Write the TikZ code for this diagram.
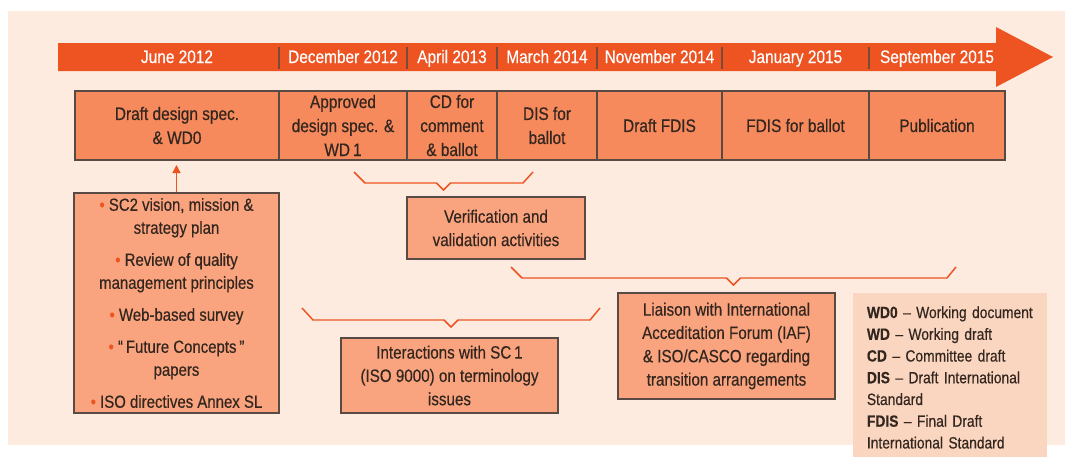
\documentclass[tikz,border=0pt]{standalone}
\usepackage{fontspec}
\setmainfont{Liberation Sans}[FakeStretch=0.85, FakeBold=0.4]
\usetikzlibrary{arrows.meta,calc,positioning}

\definecolor{bgpeach}{HTML}{FDEBE0}
\definecolor{arrowred}{HTML}{EE5322}
\definecolor{stagefill}{HTML}{F68A5C}
\definecolor{notefill}{HTML}{F9A47E}
\definecolor{legendfill}{HTML}{FAD5BF}
\definecolor{boxline}{HTML}{5A4A44}
\definecolor{textdark}{HTML}{33261F}

\newcommand{\bul}{{\color{arrowred}\textbullet}\ }

\begin{document}
\begin{tikzpicture}[x=0.75pt, y=-0.75pt,
    stage/.style={draw=boxline, line width=1.1pt, fill=stagefill, text=textdark, align=center,
      inner sep=0pt, outer sep=0pt, minimum height=51.75pt, font=\fontsize{13.6}{18}\selectfont},
    date/.style={text=white, anchor=base, font=\fontsize{13.6}{16}\selectfont},
    note/.style={draw=boxline, line width=1.1pt, fill=notefill, text=textdark, align=center,
      inner sep=0pt, font=\fontsize{13.4}{17.5}\selectfont},
    bracket/.style={draw=arrowred, line width=1.1pt},
    divider/.style={draw=boxline!80!arrowred, line width=0.8pt}]

  \useasboundingbox (0,0) rectangle (1065,457);
  \fill[bgpeach] (8,11) rectangle (1065,445);

  % time line
  \fill[arrowred] (58,43) -- (996,43) -- (996,27) -- (1053,57) -- (996,87) -- (996,71) -- (58,71) -- cycle;

  % stages
  \node[stage, minimum width=153pt] (draft) at (177,125.5) {Draft design spec.\\ \& WD0};
  \node[stage, minimum width=96pt, right=0pt of draft] (approved) {Approved\\ design spec. \&\\ WD\,1};
  \node[stage, minimum width=67.5pt, right=0pt of approved] (cd) {CD for\\ comment\\ \& ballot};
  \node[stage, minimum width=75pt, right=0pt of cd] (dis) {DIS for\\ ballot};
  \node[stage, minimum width=93.75pt, right=0pt of dis] (dfdis) {Draft FDIS};
  \node[stage, minimum width=110.25pt, right=0pt of dfdis] (fdis) {FDIS for ballot};
  \node[stage, minimum width=102pt, right=0pt of fdis] (pub) {Publication};

  % dates
  \node[date] (june) at (177,63) {June 2012};
  \node[date] (dec) at (approved |- june.base) {December 2012};
  \node[date] (apr) at (cd |- june.base) {April 2013};
  \node[date] (mar) at (dis |- june.base) {March 2014};
  \node[date] (nov) at (dfdis |- june.base) {November 2014};
  \node[date] (jan) at (fdis |- june.base) {January 2015};
  \node[date] (sep) at (pub |- june.base) {September 2015};

  \foreach \s in {approved,cd,dis,dfdis,fdis,pub}
    \draw[divider] (\s.west |- 0,47) -- (\s.west |- 0,69);

  % activities
  \node[note, minimum width=153.75pt, minimum height=165pt, font=\fontsize{13.2}{17.25}\selectfont] (ideas) at (176.5,303)
    {\bul SC2 vision, mission \&\\ strategy plan\\[6.75pt]
     \bul Review of quality\\ management principles\\[6.75pt]
     \bul Web-based survey\\[6.75pt]
     \bul “\,Future Concepts\,”\\ papers\\[6.75pt]
     \bul ISO directives Annex SL};
  \node[note, minimum width=133.5pt, minimum height=46.5pt] (verif) at (496,228) {Verification and\\ validation activities};
  \node[note, minimum width=162.75pt, minimum height=56.25pt] (inter) at (449.5,375.5)
    {Interactions with SC\,1\\ (ISO 9000) on terminology\\ issues};
  \node[note, minimum width=162.75pt, minimum height=79.5pt] (liaison) at (726.5,346)
    {Liaison with International\\ Acceditation Forum (IAF)\\ \& ISO/CASCO regarding\\ transition arrangements};

  \draw[arrowred, line width=1.1pt, -{Triangle[width=6pt,length=6pt]}, shorten >=3.75pt]
    (ideas.north) -- (ideas.north |- draft.south);

  % brackets
  \coordinate (v1) at (354,172);
  \coordinate (v2) at (533,172);
  \draw[bracket] (v1) -- ++(11,11) -- ($(v1)!.5!(v2)+(-7,11)$) -- ++(7,7) -- ++(7,-7) -- ($(v2)+(-10,11)$) -- (v2);
  \coordinate (i1) at (302,308);
  \coordinate (i2) at (600,308);
  \draw[bracket] (i1) -- ++(11,12) -- ($(i1)!.5!(i2)+(-7,12)$) -- ++(7,7) -- ++(7,-7) -- ($(i2)+(-10,12)$) -- (i2);
  \coordinate (l1) at (511,267);
  \coordinate (l2) at (956,267);
  \draw[bracket] (l1) -- ++(11,11) -- ($(l1)!.5!(l2)+(-7,11)$) -- ++(7,7) -- ++(7,-7) -- ($(l2)+(-9,11)$) -- (l2);

  % legend
  \node[fill=legendfill, anchor=north west, text width=125pt, inner xsep=10.25pt, inner ysep=9.75pt,
    align=left, text=textdark, font=\fontsize{12.2}{16.3}\selectfont] (legend) at (853,293)
    {\textbf{WD0} -- Working document\\
     \textbf{WD} -- Working draft\\
     \textbf{CD} -- Committee draft\\
     \textbf{DIS} -- Draft International\\
     Standard\\
     \textbf{FDIS} -- Final Draft\\
     International Standard};
\end{tikzpicture}
\end{document}
